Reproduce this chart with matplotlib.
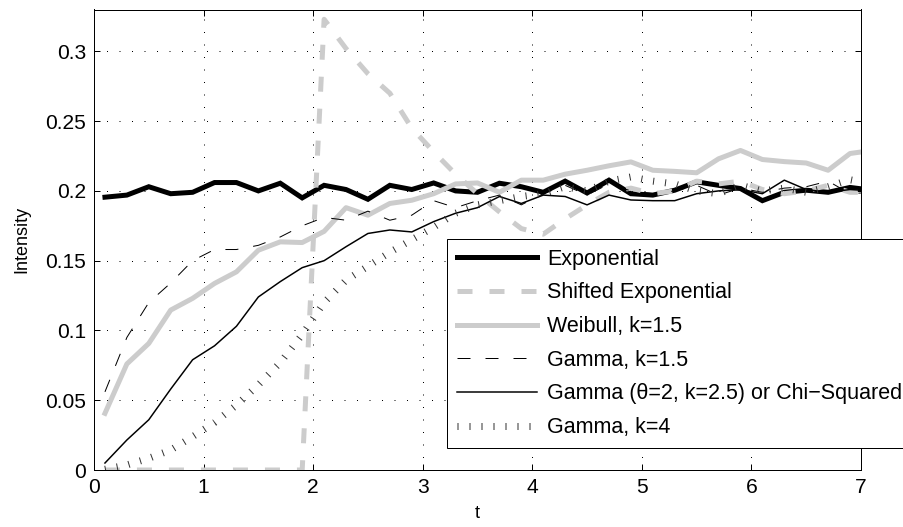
import matplotlib
matplotlib.use('Agg')
import matplotlib.pyplot as plt

plt.rcParams['font.family'] = ['Liberation Sans', 'DejaVu Sans']
plt.rcParams['lines.scale_dashes'] = False  # dash lengths in points (= px at 72 dpi)

# bin centres
t = [0.1, 0.3, 0.5, 0.7, 0.9, 1.1, 1.3, 1.5, 1.7, 1.9,
     2.1, 2.3, 2.5, 2.7, 2.9, 3.1, 3.3, 3.5, 3.7, 3.9,
     4.1, 4.3, 4.5, 4.7, 4.9, 5.1, 5.3, 5.5, 5.7, 5.9,
     6.1, 6.3, 6.5, 6.7, 6.9, 7.1]

exponential = [0.1955, 0.197, 0.203, 0.198, 0.199, 0.206, 0.206, 0.200, 0.2055, 0.195,
               0.204, 0.201, 0.194, 0.204, 0.201, 0.2057, 0.200, 0.199, 0.2055, 0.203,
               0.199, 0.207, 0.1985, 0.2077, 0.198, 0.197, 0.2005, 0.2065, 0.204, 0.2017,
               0.193, 0.199, 0.2005, 0.199, 0.2025, 0.2005]

shifted_exp = [0, 0, 0, 0, 0, 0, 0, 0, 0, 0,
               0.323, 0.302, 0.284, 0.27, 0.245, 0.228, 0.212, 0.198, 0.185, 0.173,
               0.169, 0.18, 0.19, 0.199, 0.202, 0.198, 0.200, 0.207, 0.205, 0.207,
               0.201, 0.198, 0.200, 0.204, 0.199, 0.199]

weibull = [0.0406, 0.076, 0.0907, 0.1146, 0.123, 0.1337, 0.142, 0.1575, 0.1635, 0.163,
           0.171, 0.188, 0.1826, 0.191, 0.1933, 0.198, 0.205, 0.2057, 0.199, 0.2077,
           0.2077, 0.212, 0.2148, 0.218, 0.2208, 0.2148, 0.214, 0.213, 0.223, 0.229,
           0.2225, 0.221, 0.22, 0.2148, 0.2268, 0.229]

gamma_15 = [0.056, 0.095, 0.12, 0.134, 0.150, 0.158, 0.158, 0.161, 0.167, 0.175,
            0.181, 0.179, 0.1855, 0.179, 0.1826, 0.193, 0.188, 0.193, 0.197, 0.19,
            0.198, 0.204, 0.197, 0.205, 0.2, 0.198, 0.2, 0.204, 0.197, 0.202,
            0.199, 0.202, 0.203, 0.207, 0.198, 0.199]

gamma_25 = [0.005, 0.0215, 0.036, 0.058, 0.079, 0.089, 0.103, 0.124, 0.135, 0.145,
            0.150, 0.160, 0.1695, 0.172, 0.1706, 0.178, 0.184, 0.188, 0.196, 0.191,
            0.197, 0.196, 0.190, 0.197, 0.1935, 0.193, 0.193, 0.198, 0.2, 0.201,
            0.198, 0.2077, 0.201, 0.199, 0.201, 0.200]

gamma_4 = [0.0005, 0.0036, 0.0084, 0.0143, 0.0239, 0.034, 0.0465, 0.061, 0.077, 0.097,
           0.12, 0.136, 0.146, 0.156, 0.165, 0.174, 0.184, 0.19, 0.193, 0.196,
           0.198, 0.203, 0.2, 0.207, 0.21, 0.207, 0.205, 0.2, 0.198, 0.204,
           0.2, 0.202, 0.199, 0.203, 0.208, 0.205]

labels = ['Exponential', 'Shifted Exponential', 'Weibull, k=1.5', 'Gamma, k=1.5',
          'Gamma (\u03b8=2, k=2.5) or Chi\u2212Squared', 'Gamma, k=4']

yticks = [0, 0.05, 0.1, 0.15, 0.2, 0.25, 0.3]
ytick_labels = ['0', '0.05', '0.1', '0.15', '0.2', '0.25', '0.3']
xticks = [0, 1, 2, 3, 4, 5, 6, 7]

gray = '#cccccc'

fig = plt.figure(figsize=(903 / 72, 527 / 72), dpi=72)
ax = fig.add_axes([94 / 903, 1 - 470 / 527, (861 - 94) / 903, (470 - 9.5) / 527])

ax.plot(t, exponential, color='k', lw=5, label=labels[0], solid_joinstyle='miter')
ax.plot(t, shifted_exp, color=gray, lw=5, dashes=(15, 17), label=labels[1])
ax.plot(t, weibull, color=gray, lw=5, label=labels[2])
ax.plot(t, gamma_15, color='k', lw=1, dashes=(13, 15), label=labels[3])
ax.plot(t, gamma_25, color='k', lw=1.5, label=labels[4])
ax.plot(t, gamma_4, color='0.2', lw=7, dashes=(1, 11), label=labels[5])

ax.set_xlim(0, 7)
ax.set_ylim(0, 0.33)
ax.set_xticks(xticks)
ax.set_yticks(yticks)
ax.set_yticklabels(ytick_labels)
ax.grid(True, color='k', linestyle=(0, (1, 11.5)), linewidth=1)
ax.set_axisbelow(True)
ax.tick_params(direction='in', length=6, width=1, top=True, right=True,
               labelsize=21, pad=8)
for s in ax.spines.values():
    s.set_linewidth(1)

ax.set_xlabel('t', fontsize=18, labelpad=8)
ax.set_ylabel('Intensity', fontsize=18, labelpad=15)

leg = ax.legend(loc='upper left', bbox_to_anchor=(447 / 903, 1 - 239 / 527),
                bbox_transform=fig.transFigure, fontsize=21.5, handlelength=3.75,
                handletextpad=0.45, borderpad=0.45, labelspacing=0.59,
                borderaxespad=0, fancybox=False, framealpha=1, edgecolor='k')
leg.get_frame().set_linewidth(1)

fig.savefig('out.png', dpi=72)
